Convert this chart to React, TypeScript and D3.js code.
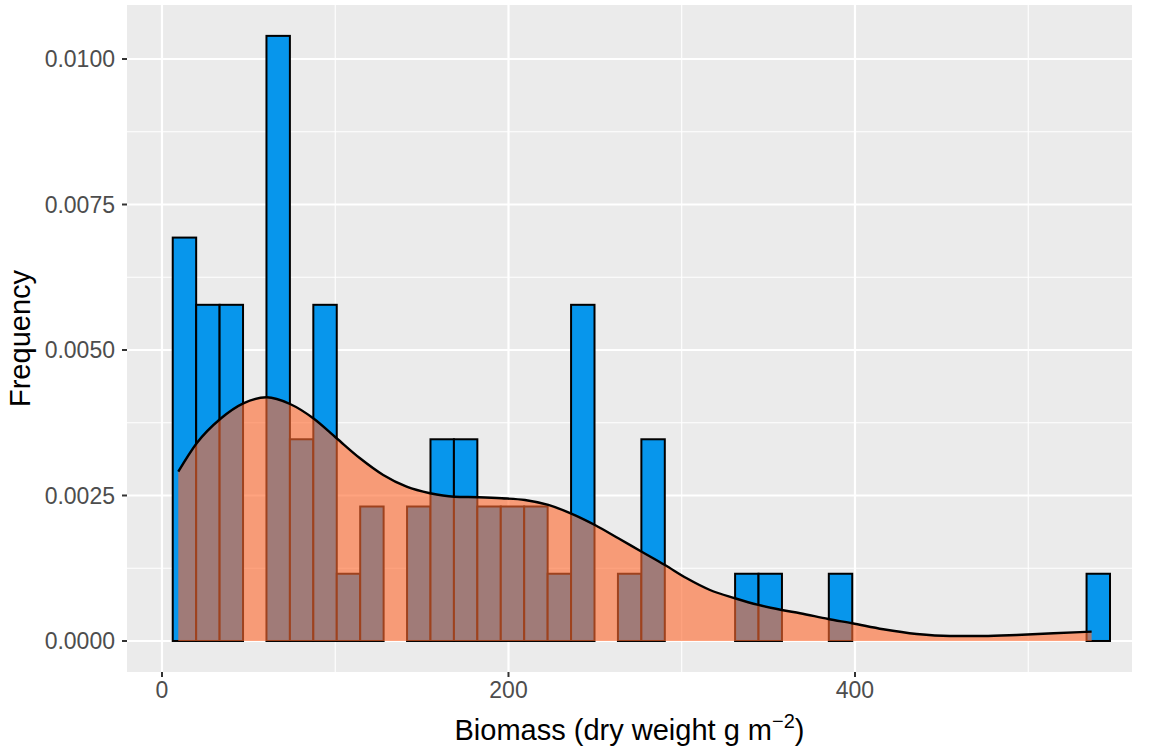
import React from "react";
import * as d3 from "d3";

// Histogram bins (biomass, dry weight g m^-2)
const binStart = 6.2;
const binWidth = 13.525;
const binCounts = [
  6, 5, 5, 0, 9, 3, 5, 1, 2, 0,
  2, 3, 3, 2, 2, 2, 1, 5, 0, 1,
  3, 0, 0, 0, 1, 1, 0, 0, 1, 0,
  0, 0, 0, 0, 0, 0, 0, 0, 0, 1,
];
const totalN = 64;

// Kernel density curve
const densX = [
  9.4, 20.0, 34.1, 46.9, 60.4, 73.9, 87.3, 100.8, 114.3, 127.7,
  141.2, 154.7, 168.7, 182.6, 196.1, 209.5, 223.0, 235.9, 249.9, 263.4,
  276.9, 290.3, 302.9, 316.3, 330.7, 344.2, 357.7, 368.3, 384.6, 398.4,
  416.3, 435.6, 454.8, 474.0, 493.3, 514.5, 536.6,
];
const densY = [
  0.002909, 0.003397, 0.003827, 0.004084, 0.004187, 0.004072, 0.003827, 0.003483, 0.003139, 0.002852,
  0.002651, 0.002538, 0.002479, 0.002469, 0.002452, 0.002423, 0.002337, 0.002194, 0.001993, 0.001765,
  0.001534, 0.001306, 0.001077, 0.000876, 0.000734, 0.000619, 0.000533, 0.000476, 0.000378, 0.000304,
  0.000201, 0.000120, 0.000086, 0.000086, 0.000103, 0.000132, 0.000160,
];

const xMajor = [0, 200, 400];
const xMinor = [100, 300, 500];
const yMajor = [0, 0.0025, 0.005, 0.0075, 0.01];
const yMinor = [0.00125, 0.00375, 0.00625, 0.00875];
const yTickLabels = ["0.0000", "0.0025", "0.0050", "0.0075", "0.0100"];

const W = 1149;
const H = 752;
const P = { left: 127, right: 1132, top: 5, bottom: 672 };

export default function App() {
  const x = d3.scaleLinear().domain([-20.2, 559.9]).range([P.left, P.right]);
  const y = d3.scaleLinear().domain([-0.000533, 0.010928]).range([P.bottom, P.top]);

  const bars = binCounts.map((c, i) => {
    const x0 = binStart + i * binWidth;
    return { x0, x1: x0 + binWidth, d: c / (totalN * binWidth) };
  });
  const dens = densX.map((v, i) => [v, densY[i]] as [number, number]);
  const area = d3
    .area<[number, number]>()
    .x((d) => x(d[0]))
    .y0(y(0))
    .y1((d) => y(d[1]))
    .curve(d3.curveMonotoneX);
  const line = d3
    .line<[number, number]>()
    .x((d) => x(d[0]))
    .y((d) => y(d[1]))
    .curve(d3.curveMonotoneX);

  const font = "Liberation Sans, Arial, Helvetica, sans-serif";

  return (
    <svg
      width={W}
      height={H}
      style={{ position: "absolute", left: 0, top: 0, background: "#fff" }}
      fontFamily={font}
    >
      <rect x={P.left} y={P.top} width={P.right - P.left} height={P.bottom - P.top} fill="#EBEBEB" />
      {xMinor.map((v) => (
        <line key={"xm" + v} x1={x(v)} x2={x(v)} y1={P.top} y2={P.bottom} stroke="#fff" strokeWidth={1.1} />
      ))}
      {yMinor.map((v) => (
        <line key={"ym" + v} x1={P.left} x2={P.right} y1={y(v)} y2={y(v)} stroke="#fff" strokeWidth={1.1} />
      ))}
      {xMajor.map((v) => (
        <line key={"xM" + v} x1={x(v)} x2={x(v)} y1={P.top} y2={P.bottom} stroke="#fff" strokeWidth={2.2} />
      ))}
      {yMajor.map((v) => (
        <line key={"yM" + v} x1={P.left} x2={P.right} y1={y(v)} y2={y(v)} stroke="#fff" strokeWidth={2.2} />
      ))}
      {bars.map((b, i) => (
        <rect
          key={"b" + i}
          x={x(b.x0)}
          y={y(b.d)}
          width={x(b.x1) - x(b.x0)}
          height={y(0) - y(b.d)}
          fill="#0796EC"
          stroke="#000"
          strokeWidth={2}
        />
      ))}
      <path d={area(dens) || ""} fill="#FF6A30" fillOpacity={0.62} stroke="none" />
      <path d={line(dens) || ""} fill="none" stroke="#000" strokeWidth={2.4} />
      {xMajor.map((v) => (
        <g key={"xt" + v}>
          <line x1={x(v)} x2={x(v)} y1={P.bottom} y2={P.bottom + 5} stroke="#333" strokeWidth={2} />
          <text x={x(v)} y={P.bottom + 26} textAnchor="middle" fontSize={23} fill="#4D4D4D">
            {v}
          </text>
        </g>
      ))}
      {yMajor.map((v, i) => (
        <g key={"yt" + v}>
          <line x1={P.left - 5} x2={P.left} y1={y(v)} y2={y(v)} stroke="#333" strokeWidth={2} />
          <text x={P.left - 12} y={y(v)} dy="0.36em" textAnchor="end" fontSize={23} fill="#4D4D4D">
            {yTickLabels[i]}
          </text>
        </g>
      ))}
      <text
        transform={`translate(30, ${(P.top + P.bottom) / 2}) rotate(-90)`}
        textAnchor="middle"
        fontSize={29}
        fill="#000"
      >
        Frequency
      </text>
      <text x={(P.left + P.right) / 2} y={740} textAnchor="middle" fontSize={29} fill="#000">
        Biomass (dry weight g m
        <tspan dy={-12} fontSize={20}>−2</tspan>
        <tspan dy={12}>)</tspan>
      </text>
    </svg>
  );
}
